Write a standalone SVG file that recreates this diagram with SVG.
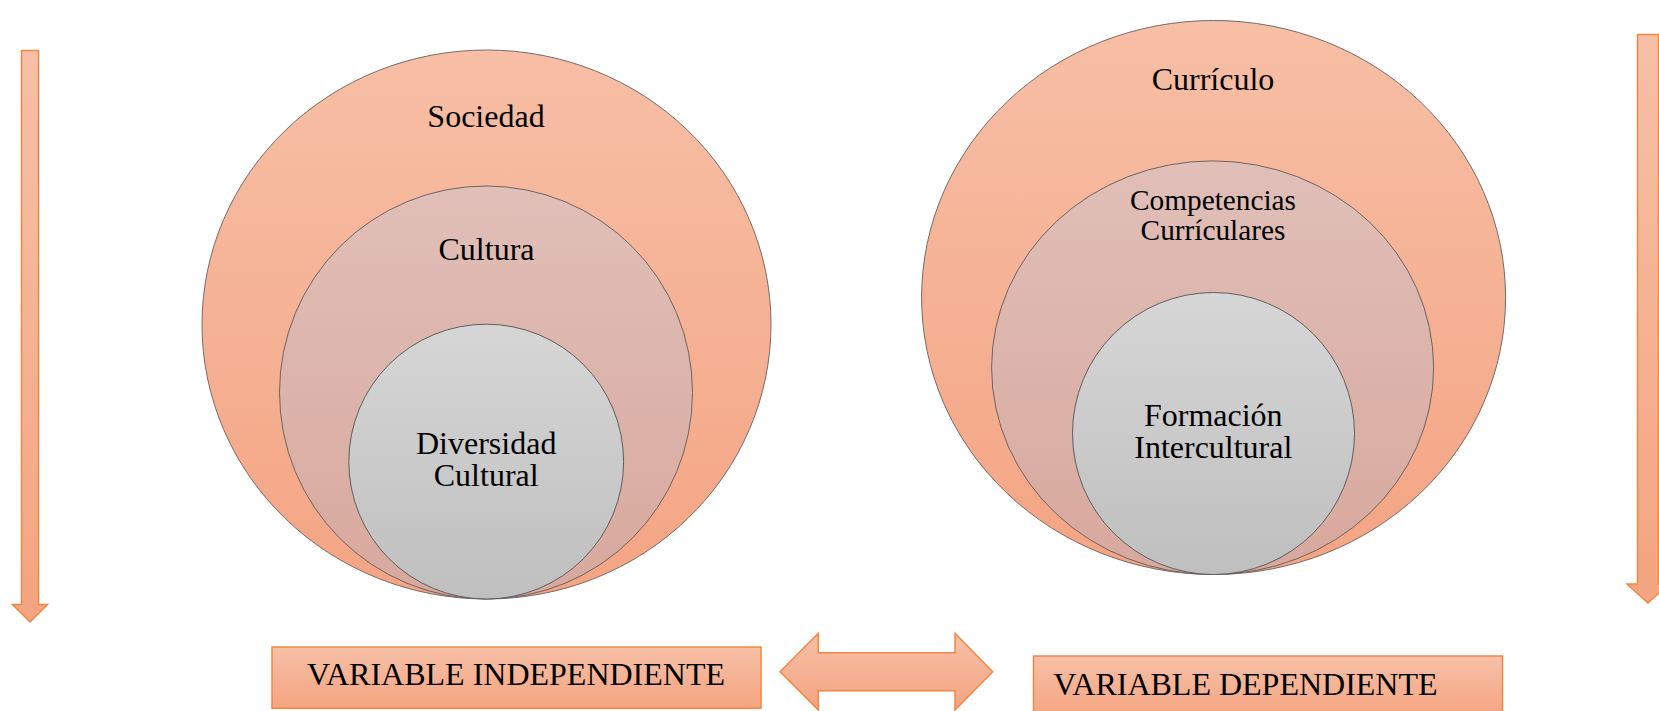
<svg xmlns="http://www.w3.org/2000/svg" width="1659" height="711" viewBox="0 0 1659 711">
  <defs>
    <linearGradient id="gOrange" x1="0" y1="0" x2="0" y2="1">
      <stop offset="0" stop-color="#F7C0A7"/>
      <stop offset="1" stop-color="#F4A480"/>
    </linearGradient>
    <linearGradient id="gOuter" x1="0" y1="0" x2="0" y2="1">
      <stop offset="0" stop-color="#F7BFA6"/>
      <stop offset="1" stop-color="#F4A483"/>
    </linearGradient>
    <linearGradient id="gMid" x1="0" y1="0" x2="0" y2="1">
      <stop offset="0" stop-color="#E0BFB8"/>
      <stop offset="1" stop-color="#D8A89D"/>
    </linearGradient>
    <linearGradient id="gInner" x1="0" y1="0" x2="0" y2="1">
      <stop offset="0" stop-color="#D6D6D6"/>
      <stop offset="1" stop-color="#BFBFBF"/>
    </linearGradient>
    <style>
      .shape { stroke: #EF8845; stroke-width: 1.5; fill: url(#gOrange); }
      .outer { fill: url(#gOuter); stroke: #7A6A66; stroke-width: 1; }
      .mid { fill: url(#gMid); stroke: #6E6360; stroke-width: 1; }
      .inner { fill: url(#gInner); stroke: #5E5E5E; stroke-width: 1; }
      text { font-family: "Liberation Serif", "Times New Roman", serif; fill: #000; }
      .t32 { font-size: 32px; text-anchor: middle; }
      .t29 { font-size: 29.3px; text-anchor: middle; }
      .lbl { font-size: 32px; }
    </style>
  </defs>

  <g id="connectors">
    <polygon id="arrow-left" class="shape" points="21.5,50.5 38.5,50.5 38.5,604.5 47.5,604.5 30,622 12.5,604.5 21.5,604.5"/>
    <polygon id="arrow-right" class="shape" points="1637.5,34.5 1658.5,34.5 1658.5,584 1669,584 1648,603 1627,584 1637.5,584"/>
    <polygon id="arrow-double" class="shape" points="780,671.7 818.3,633.3 818.3,652.7 955,652.7 955,633.3 992.7,671.7 955,710 955,690.7 818.3,690.7 818.3,710"/>
  </g>

  <g id="node-sociedad">
    <ellipse class="outer" cx="486.5" cy="324.5" rx="284.5" ry="274.5"/>
    <text class="t32" x="486" y="127">Sociedad</text>
  </g>
  <g id="node-cultura">
    <ellipse class="mid" cx="486" cy="392.5" rx="206.5" ry="206.5"/>
    <text class="t32" x="486.5" y="260">Cultura</text>
  </g>
  <g id="node-diversidad">
    <circle class="inner" cx="486.2" cy="461.6" r="137.4"/>
    <text class="t32" x="486.2" y="454.3">Diversidad</text>
    <text class="t32" x="486.2" y="486">Cultural</text>
  </g>

  <g id="node-curriculo">
    <ellipse class="outer" cx="1213.6" cy="297.5" rx="292" ry="277"/>
    <text class="t32" x="1213" y="90">Currículo</text>
  </g>
  <g id="node-competencias">
    <ellipse class="mid" cx="1212.6" cy="367.7" rx="221" ry="206.8"/>
    <text class="t29" x="1213" y="210">Competencias</text>
    <text class="t29" x="1213" y="240">Currículares</text>
  </g>
  <g id="node-formacion">
    <circle class="inner" cx="1213.5" cy="433.5" r="141"/>
    <text class="t32" x="1213.3" y="425.7">Formación</text>
    <text class="t32" x="1213.3" y="457.7">Intercultural</text>
  </g>

  <g id="node-var-independiente">
    <rect class="shape" x="272" y="647" width="489" height="61.3"/>
    <text class="t32" x="516" y="685">VARIABLE INDEPENDIENTE</text>
  </g>
  <g id="node-var-dependiente">
    <rect class="shape" x="1033.5" y="656" width="469" height="62"/>
    <text class="lbl" x="1053.3" y="695">VARIABLE DEPENDIENTE</text>
  </g>
</svg>
